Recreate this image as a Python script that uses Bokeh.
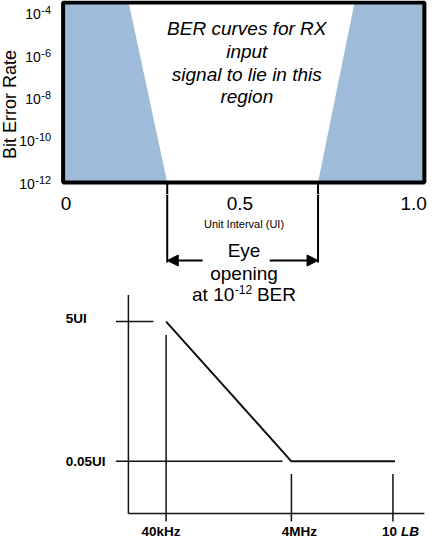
import math
from bokeh.plotting import figure
from bokeh.layouts import column
from bokeh.models import Range1d, Arrow, NormalHead, LinearScale
from bokeh.core.properties import value
from bokeh.embed import file_html
from bokeh.resources import INLINE

# ---------------- data: BER "bathtub" panel ----------------
ber_ticks = [1e-4, 1e-6, 1e-8, 1e-10, 1e-12]
ber_tick_labels = ["10^-4", "10^-6", "10^-8", "10^-10", "10^-12"]
ber_top = 10 ** -3.49
ber_bottom = 1e-12
ui_ticks = [0, 0.5, 1.0]
ui_tick_labels = ["0", "0.5", "1.0"]
left_edge_ui = [0.18, 0.291]    # boundary UI at ber_top, ber_bottom
right_edge_ui = [0.83, 0.725]   # boundary UI at ber_top, ber_bottom
eye_opening = [0.291, 0.725]    # eye edges at 1e-12 BER
region_text = "BER curves for RX\ninput\nsignal to lie in this\nregion"
eye_text = ["Eye", "opening", "at 10^-12 BER"]

# ---------------- data: jitter tolerance mask ----------------
freq_ticks = [4e4, 4e6, 1.67e8]
freq_labels = ["40kHz", "4MHz", "10 LB"]
ui_levels = [5, 0.05]
ui_level_labels = ["5UI", "0.05UI"]
mask_freq = [4e4, 4e6, 1.8e8]
mask_ui = [5, 0.05, 0.05]
axis_freq = 1e4
axis_ui = 0.009

FONT = value("Liberation Sans")
W = 428
BLUE = "#9ebbd9"
BOX_L, BOX_R = -0.0086, 1.031   # box edges (layout)

# approximate Arial/Liberation Sans advance widths (em)
ADV = {"-": 0.333, " ": 0.278, "a": 0.556, "t": 0.278, "B": 0.667, "E": 0.667, "R": 0.722}


def text_width(s, size):
    return sum(ADV.get(c, 0.556) for c in s) * size


def bare(p):
    p.outline_line_color = None
    p.grid.visible = False
    p.background_fill_color = "white"
    p.border_fill_color = "white"


# ---------------- top panel ----------------
pa = figure(width=W, height=194, x_range=Range1d(-0.1888, 1.0429),
            y_range=Range1d(10 ** -12.567, 10 ** -3.395), y_axis_type="log",
            x_axis_location=None, y_axis_location=None,
            toolbar_location=None, output_backend="svg",
            min_border_left=0, min_border_right=0, min_border_top=0, min_border_bottom=0)
bare(pa)

pa.patches(xs=[[BOX_L, left_edge_ui[0], left_edge_ui[1], BOX_L],
               [right_edge_ui[0], BOX_R, BOX_R, right_edge_ui[1]]],
           ys=[[ber_top, ber_top, ber_bottom, ber_bottom]] * 2,
           fill_color=BLUE, line_color=None)
pa.quad(left=[BOX_L], right=[BOX_R], bottom=[ber_bottom], top=[ber_top],
        fill_color=None, line_color="black", line_width=4)
pa.segment(x0=eye_opening, y0=[ber_bottom] * 2, x1=eye_opening,
           y1=[pa.y_range.start] * 2, line_color="black", line_width=2)

pa.text(x=[0.52], y=[10 ** -6.33], text=[region_text], text_font=FONT,
        text_font_style="italic", text_font_size="19px", text_align="center",
        text_baseline="middle", text_line_height=1.09, text_color="black")

# y tick labels (log scale): base "10" + superscript exponent
BASE_PX, EXP_PX = 14, 11
for t, lab in zip(ber_ticks, ber_tick_labels):
    base, exp = lab.split("^")
    pa.text(x=[BOX_L], y=[t], text=[exp], x_offset=-12, y_offset=-3,
            text_align="right", text_baseline="middle", text_font=FONT,
            text_font_size=f"{EXP_PX}px", text_color="black")
    pa.text(x=[BOX_L], y=[t], text=[base], x_offset=-12 - text_width(exp, EXP_PX) - 0.5,
            y_offset=1, text_align="right", text_baseline="middle", text_font=FONT,
            text_font_size=f"{BASE_PX}px", text_color="black")
# y axis title
pa.text(x=[BOX_L], y=[10 ** -8.31], text=["Bit Error Rate"], x_offset=-52.7,
        angle=math.pi / 2, text_align="center", text_baseline="middle",
        text_font=FONT, text_font_size="18px", text_color="black")

# ---------------- eye annotation + jitter tolerance panel ----------------
pb = figure(width=W, height=347, x_axis_type="log", y_axis_type="log",
            x_range=Range1d(90.9, 6.17e8), y_range=Range1d(0.003569, 328.5),
            x_axis_location=None, y_axis_location=None,
            toolbar_location=None, output_backend="svg",
            min_border_left=0, min_border_right=0, min_border_top=0, min_border_bottom=0)
pb.extra_x_ranges = {"ui": pa.x_range}
pb.extra_x_scales = {"ui": LinearScale()}
pb.extra_y_ranges = {"eye": Range1d(0, 1)}
pb.extra_y_scales = {"eye": LinearScale()}
bare(pb)

# x tick labels of the BER panel
pb.text(x=ui_ticks, y=[0.9741] * 3, text=ui_tick_labels, x_range_name="ui",
        y_range_name="eye", text_font=FONT, text_font_size="19px",
        text_align="center", text_baseline="middle", text_color="black")
pb.text(x=[0.512], y=[0.9147], text=["Unit Interval (UI)"], x_range_name="ui",
        y_range_name="eye", text_font=FONT, text_font_size="11px",
        text_align="center", text_baseline="middle", text_color="black")

# eye-opening markers
pb.segment(x0=eye_opening, y0=[1.0, 1.0], x1=eye_opening, y1=[0.8040, 0.8040],
           x_range_name="ui", y_range_name="eye", line_color="black", line_width=2)
arrow_y = 0.8098
for start, end in [(eye_opening[0] + 0.102, eye_opening[0]),
                   (eye_opening[1] - 0.139, eye_opening[1])]:
    pb.add_layout(Arrow(end=NormalHead(size=11, fill_color="black", line_color="black"),
                        x_start=start, y_start=arrow_y, x_end=end, y_end=arrow_y,
                        x_range_name="ui", y_range_name="eye",
                        line_color="black", line_width=2))
EYE_X = 0.512
pb.text(x=[EYE_X] * 2, y=[0.8380, 0.7729], text=eye_text[:2],
        x_range_name="ui", y_range_name="eye", text_font=FONT,
        text_font_size="19px", text_align="center", text_baseline="middle",
        text_color="black")
# third line with superscript exponent
pre, rest = eye_text[2].split("^")
exp, post = rest.split(" ", 1)
gap = text_width(" ", 19)
w_pre, w_exp, w_post = text_width(pre, 19), text_width(exp, 12), text_width(post, 19)
x_left = -(w_pre + w_exp + gap + w_post) / 2
for s, size, off, dy in [(pre, 19, x_left, 0), (exp, 12, x_left + w_pre + 0.5, -5),
                         (post, 19, x_left + w_pre + w_exp + gap, 0)]:
    pb.text(x=[EYE_X], y=[0.7104], text=[s], x_offset=off, y_offset=dy,
            x_range_name="ui", y_range_name="eye", text_font=FONT,
            text_font_size=f"{size}px", text_align="left", text_baseline="middle",
            text_color="black")

# jitter tolerance mask diagram
LC = "#111111"
f_end = 5.3e8
ui_top = 12
pb.segment(x0=[axis_freq, axis_freq], y0=[axis_ui, axis_ui],
           x1=[axis_freq, f_end], y1=[ui_top, axis_ui],
           line_color=LC, line_width=1.5)
pb.segment(x0=[axis_freq / 1.58, axis_freq / 1.58], y0=ui_levels,
           x1=[axis_freq * 2.5, freq_ticks[1] * 0.72], y1=ui_levels,
           line_color=LC, line_width=1.5)
pb.segment(x0=freq_ticks, y0=[ui_levels[0] * 0.64, 0.033, 0.033],
           x1=freq_ticks, y1=[0.00689] * 3, line_color=LC, line_width=1.5)
pb.line(mask_freq, mask_ui, line_color=LC, line_width=2)

bold = dict(text_font=FONT, text_font_style="bold", text_font_size="13.5px",
            text_baseline="middle", text_color="black")
pb.text(x=[1e3], y=[ui_levels[0]], text=[ui_level_labels[0]], text_align="left",
        y_offset=-3, **bold)
pb.text(x=[1e3], y=[ui_levels[1]], text=[ui_level_labels[1]], text_align="left", **bold)

lab_y = 0.00496
pb.text(x=[freq_ticks[0]], y=[lab_y], text=[freq_labels[0]], text_align="center",
        x_offset=-5, **bold)
pb.text(x=[freq_ticks[1]], y=[lab_y], text=[freq_labels[1]], text_align="center",
        x_offset=8, **bold)
num, unit = freq_labels[2].split(" ")
pb.text(x=[freq_ticks[2]], y=[lab_y], text=[num], text_align="left", x_offset=-11, **bold)
bold_it = dict(bold, text_font_style="bold italic")
pb.text(x=[freq_ticks[2]], y=[lab_y], text=[unit], text_align="left", x_offset=8, **bold_it)

layout = column(pa, pb)
open("out.html", "w").write(file_html(layout, INLINE))
